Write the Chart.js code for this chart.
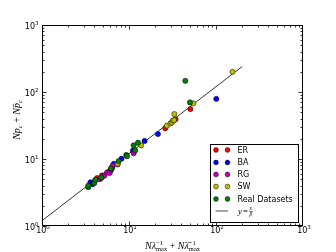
<!DOCTYPE html>
<html><head><meta charset="utf-8">
<script src="https://cdn.jsdelivr.net/npm/chart.js@4"></script>
<style>html,body{margin:0;padding:0;background:#fff}#w{width:336px;height:252px}</style>
</head><body><div id="w"><canvas id="c" width="336" height="252"></canvas></div>
<script>
// ---- data ----
const erX = [3.9, 4.3, 4.9, 6.1, 6.4, 11.5, 26.1, 34.3, 50.7];
const erY = [4.4, 5.2, 5.7, 6.7, 7.6, 13.5, 28.7, 39.1, 55.7];
const baX = [3.6, 3.8, 5.8, 6.3, 6.7, 8.2, 11.1, 15.1, 21.5, 100.8];
const baY = [4.5, 4.2, 6.3, 7.3, 8.5, 10.1, 13.3, 18.6, 23.6, 79];
const rgX = [4.1, 4.6, 4.8, 5.2, 5.6, 6.0, 6.3, 6.5, 7.4, 11.3];
const rgY = [4.8, 5.0, 5.2, 5.6, 6.3, 6.2, 7.0, 8.0, 8.3, 12.2];
const swX = [7.4, 13.8, 27.3, 30, 31, 32, 33, 33.2, 54.8, 155];
const swY = [8.5, 16.0, 31.4, 34, 35, 37.5, 38, 46.9, 67.7, 200];
const rdX = [3.4, 3.4, 4.0, 4.1, 4.8, 6.2, 7.6, 9.3, 9.5, 11.3, 11.8, 12.7, 44.4, 50.2];
const rdY = [3.8, 4.0, 4.4, 4.9, 5.3, 7.2, 9.3, 11.5, 11.0, 16.0, 13.5, 17.5, 147, 70];
const fitX = [1, 200];
const fitY = [1.2, 240];
const decadeTicks = [1, 10, 100, 1000];
const tickExps = ['0', '1', '2', '3'];
const seriesNames = ['ER', 'BA', 'RG', 'SW', 'Real Datasets'];

const colors = ['#ff0000', '#0000ff', '#bf00bf', '#bfbf00', '#007f00'];
const pts = (xs, ys) => xs.map((v, i) => ({x: v, y: ys[i]}));

const serif = '"Liberation Serif", "DejaVu Serif", serif';
const sans = '"DejaVu Sans", sans-serif';

function runsWidth(ctx, runs) {
  let w = 0;
  for (const r of runs) {
    if (r.sup !== undefined) {
      ctx.font = r.f; w += Math.max(ctx.measureText(r.sup).width, ctx.measureText(r.sub).width);
    } else { ctx.font = r.f; w += ctx.measureText(r.t).width; }
  }
  return w;
}
function drawRuns(ctx, runs, x, y, align) {
  const w = runsWidth(ctx, runs);
  let cx = align === 'center' ? x - w / 2 : (align === 'right' ? x - w : x);
  ctx.textAlign = 'left'; ctx.textBaseline = 'alphabetic';
  for (const r of runs) {
    ctx.font = r.f;
    if (r.sup !== undefined) {
      ctx.fillText(r.sup, cx, y + r.dsup);
      ctx.fillText(r.sub, cx, y + r.dsub);
      cx += Math.max(ctx.measureText(r.sup).width, ctx.measureText(r.sub).width);
    } else {
      ctx.fillText(r.t, cx, y + (r.dy || 0));
      cx += ctx.measureText(r.t).width;
    }
  }
}

const decor = {
  id: 'decor',
  afterDatasetsDraw(chart) {
    const {ctx, chartArea: a, scales: {x, y}} = chart;
    ctx.save();
    ctx.strokeStyle = '#000'; ctx.lineWidth = 1;
    const L = Math.round(a.left) + 0.5, R = Math.round(a.right) - 0.5;
    const T = Math.round(a.top) + 0.5, B = Math.round(a.bottom) - 0.5;
    ctx.strokeRect(L, T, R - L, B - T);
    ctx.lineWidth = 0.8;
    ctx.beginPath();
    for (let e = 0; e < 3; e++) {
      for (let m = 1; m < 10; m++) {
        const v = m * Math.pow(10, e);
        const len = m === 1 ? 4 : 2;
        const px = Math.round(x.getPixelForValue(v)) + 0.5;
        const py = Math.round(y.getPixelForValue(v)) + 0.5;
        ctx.moveTo(px, B); ctx.lineTo(px, B - len);
        ctx.moveTo(px, T); ctx.lineTo(px, T + len);
        ctx.moveTo(L, py); ctx.lineTo(L + len, py);
        ctx.moveTo(R, py); ctx.lineTo(R - len, py);
      }
    }
    ctx.stroke();
    // tick labels
    ctx.fillStyle = '#000';
    const big = '8px ' + sans, small = '5.5px ' + sans;
    decadeTicks.forEach((v, i) => {
      const runs = [{t: '10', f: big}, {t: tickExps[i], f: small, dy: -4}];
      drawRuns(ctx, runs, x.getPixelForValue(v) + 1, B + 7.5, 'center');
      drawRuns(ctx, runs, L - 4, y.getPixelForValue(v) + 3.5, 'right');
    });
    // axis labels
    const mi = 'italic 10px ' + serif, mr = '10px ' + serif, ms = 'italic 6.5px ' + serif, mss = '6.5px ' + serif;
    drawRuns(ctx, [
      {t: 'Nλ', f: mi},
      {sup: '−1', sub: 'max', f: mss, dsup: -4, dsub: 2},
      {t: ' + ', f: mr},
      {t: 'Nλ\u0304', f: mi},
      {sup: '−1', sub: 'max', f: mss, dsup: -4, dsub: 2}
    ], (L + R) / 2, 249, 'center');
    ctx.save();
    ctx.translate(20, 120);
    ctx.rotate(-Math.PI / 2);
    drawRuns(ctx, [
      {t: 'Np', f: mi}, {t: 'c', f: ms, dy: 2},
      {t: ' + ', f: mr},
      {t: 'Np\u0304', f: mi}, {t: 'c', f: ms, dy: 2}
    ], 0, 0, 'center');
    ctx.restore();
    ctx.restore();
  },
  afterDraw(chart) {
    const {ctx} = chart;
    ctx.save();
    const bx = 210.5, by = 144.5, bw = 88, bh = 78;
    ctx.fillStyle = '#fff';
    ctx.fillRect(bx, by, bw, bh);
    ctx.strokeStyle = '#000'; ctx.lineWidth = 1;
    ctx.strokeRect(bx, by, bw, bh);
    const rowY = [150, 162.5, 174.5, 186.5, 199, 211];
    ctx.font = '8px ' + sans; ctx.textBaseline = 'middle'; ctx.textAlign = 'left';
    seriesNames.forEach((n, i) => {
      [216, 227.5].forEach(mx => {
        ctx.beginPath(); ctx.arc(mx, rowY[i], 2.4, 0, Math.PI * 2);
        ctx.fillStyle = colors[i]; ctx.fill();
        ctx.lineWidth = 0.5; ctx.strokeStyle = '#000'; ctx.stroke();
      });
      ctx.fillStyle = '#000';
      ctx.fillText(n, 237.5, rowY[i] + 0.5);
    });
    ctx.strokeStyle = '#888'; ctx.lineWidth = 1.5;
    ctx.beginPath(); ctx.moveTo(215.5, rowY[5]); ctx.lineTo(228, rowY[5]); ctx.stroke();
    ctx.fillStyle = '#000';
    const mi = 'italic 8.5px ' + serif, mr = '8.5px ' + serif, fr = 'italic 5.5px ' + serif;
    ctx.textBaseline = 'alphabetic';
    ctx.font = mi; ctx.fillText('y', 238, rowY[5] + 3);
    ctx.font = mr; ctx.fillText('=', 243, rowY[5] + 3);
    ctx.font = fr; ctx.fillText('x', 249.5, rowY[5] - 1);
    ctx.fillText('β', 249.5, rowY[5] + 5);
    ctx.lineWidth = 0.5; ctx.strokeStyle = '#000';
    ctx.beginPath(); ctx.moveTo(249, rowY[5] + 0.5); ctx.lineTo(253, rowY[5] + 0.5); ctx.stroke();
    ctx.restore();
  }
};

const mk = (i, xs, ys, ord) => ({
  type: 'scatter', label: seriesNames[i], data: pts(xs, ys), order: ord,
  backgroundColor: colors[i], borderColor: '#000', borderWidth: 0.5,
  pointRadius: 2.6, pointHoverRadius: 2.6
});

new Chart(document.getElementById('c'), {
  data: {
    datasets: [
      mk(0, erX, erY, 5), mk(1, baX, baY, 4), mk(2, rgX, rgY, 3), mk(3, swX, swY, 2), mk(4, rdX, rdY, 1),
      {type: 'line', label: 'y=x/β', data: pts(fitX, fitY), order: 6, borderColor: '#000',
       borderWidth: 0.8, pointRadius: 0, fill: false, tension: 0}
    ]
  },
  options: {
    responsive: false, animation: false, devicePixelRatio: 1,
    layout: {padding: {left: 0, right: 33, top: 25, bottom: 0}},
    plugins: {legend: {display: false}, tooltip: {enabled: false}},
    scales: {
      x: {type: 'logarithmic', min: 1, max: 1000,
          afterBuildTicks: s => { s.ticks = decadeTicks.map(v => ({value: v})); },
          afterFit: s => { s.height = 26; },
          grid: {display: false}, border: {display: false}, ticks: {display: false}},
      y: {type: 'logarithmic', min: 1, max: 1000,
          afterBuildTicks: s => { s.ticks = decadeTicks.map(v => ({value: v})); },
          afterFit: s => { s.width = 42; },
          grid: {display: false}, border: {display: false}, ticks: {display: false}}
    }
  },
  plugins: [decor]
});
</script></body></html>
